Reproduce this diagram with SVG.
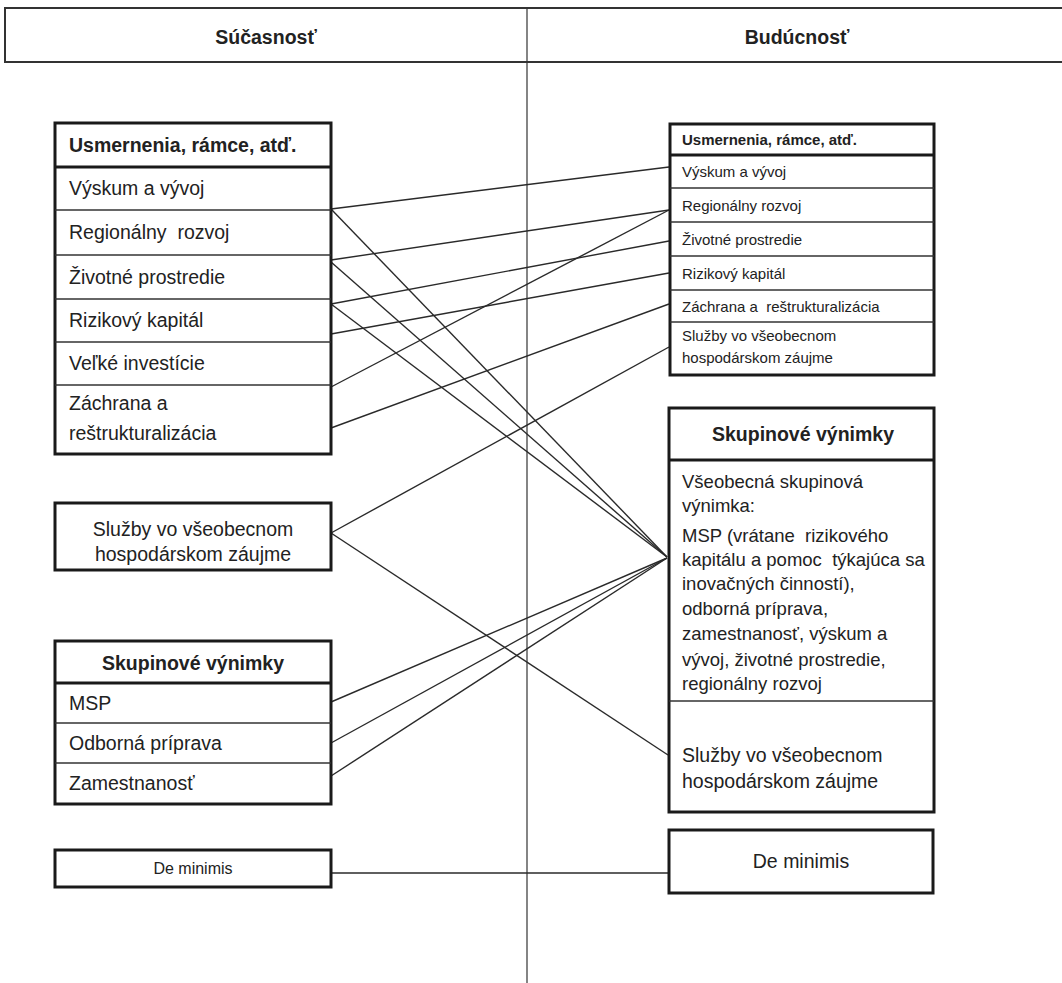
<svg xmlns="http://www.w3.org/2000/svg" width="1062" height="983" viewBox="0 0 1062 983">
<style>
text{font-family:"Liberation Sans",Arial,sans-serif;fill:#222}
.b{font-weight:bold}
.box{fill:#fff;stroke:#1a1a1a;stroke-width:3}
.sep{stroke:#1a1a1a;stroke-width:3}
.row{stroke:#333;stroke-width:1.4}
.c line{stroke:#2a2a2a;stroke-width:1.4}
.t20{font-size:19.5px}
.t15{font-size:15px}
.t16{font-size:16px}
.t18{font-size:18.5px}
.mid{text-anchor:middle}
</style>
<rect width="1062" height="983" fill="#fff"/>
<g id="header">
<rect x="5" y="8" width="1070" height="54" fill="#fff" stroke="#333" stroke-width="2"/>
<line x1="527" y1="8" x2="527" y2="983" stroke="#333" stroke-width="1.2"/>
<text class="b t20 mid" x="266" y="44">Súčasnosť</text>
<text class="b t20 mid" x="797" y="44">Budúcnosť</text>
</g>
<g class="c" id="connectors">
<line x1="331" y1="209" x2="669" y2="167"/>
<line x1="331" y1="209" x2="667" y2="557"/>
<line x1="331" y1="260" x2="669" y2="210"/>
<line x1="331" y1="262" x2="667" y2="557"/>
<line x1="331" y1="304" x2="669" y2="241"/>
<line x1="331" y1="304" x2="667" y2="557"/>
<line x1="331" y1="334" x2="669" y2="273"/>
<line x1="331" y1="387" x2="669" y2="210"/>
<line x1="331" y1="428" x2="669" y2="304"/>
<line x1="331" y1="533" x2="669" y2="347"/>
<line x1="331" y1="533" x2="668" y2="755"/>
<line x1="331" y1="702" x2="667" y2="558"/>
<line x1="331" y1="743" x2="667" y2="558"/>
<line x1="331" y1="776" x2="667" y2="558"/>
<line x1="331" y1="873" x2="669" y2="873"/>
</g>
<g id="left-usmernenia">
<rect class="box" x="55" y="123" width="276" height="331"/>
<line class="sep" x1="55" y1="167" x2="331" y2="167"/>
<line class="row" x1="55" y1="210" x2="331" y2="210"/>
<line class="row" x1="55" y1="255" x2="331" y2="255"/>
<line class="row" x1="55" y1="299" x2="331" y2="299"/>
<line class="row" x1="55" y1="342" x2="331" y2="342"/>
<line class="row" x1="55" y1="385" x2="331" y2="385"/>
<text class="b t20" x="69" y="152">Usmernenia, rámce, atď.</text>
<text class="t20" x="69" y="195">Výskum a vývoj</text>
<text class="t20" x="69" y="239" xml:space="preserve">Regionálny  rozvoj</text>
<text class="t20" x="69" y="284">Životné prostredie</text>
<text class="t20" x="69" y="327">Rizikový kapitál</text>
<text class="t20" x="69" y="370">Veľké investície</text>
<text class="t20" x="69" y="410">Záchrana a</text>
<text class="t20" x="69" y="440">reštrukturalizácia</text>
</g>
<g id="left-sluzby">
<rect class="box" x="55" y="503" width="276" height="67"/>
<text class="t20 mid" x="193" y="536">Služby vo všeobecnom</text>
<text class="t20 mid" x="193" y="561">hospodárskom záujme</text>
</g>
<g id="left-skupinove">
<rect class="box" x="55" y="641" width="276" height="163"/>
<line class="sep" x1="55" y1="683" x2="331" y2="683"/>
<line class="row" x1="55" y1="723" x2="331" y2="723"/>
<line class="row" x1="55" y1="763" x2="331" y2="763"/>
<text class="b t20 mid" x="193" y="670">Skupinové výnimky</text>
<text class="t20" x="69" y="710">MSP</text>
<text class="t20" x="69" y="750">Odborná príprava</text>
<text class="t20" x="69" y="790">Zamestnanosť</text>
</g>
<g id="left-deminimis">
<rect class="box" x="55" y="850" width="276" height="37"/>
<text class="t16 mid" x="193" y="874">De minimis</text>
</g>
<g id="right-usmernenia">
<rect class="box" x="670" y="124" width="264" height="251"/>
<line class="sep" x1="670" y1="155" x2="934" y2="155"/>
<line class="row" x1="670" y1="188" x2="934" y2="188"/>
<line class="row" x1="670" y1="222" x2="934" y2="222"/>
<line class="row" x1="670" y1="256" x2="934" y2="256"/>
<line class="row" x1="670" y1="290" x2="934" y2="290"/>
<line class="row" x1="670" y1="322" x2="934" y2="322"/>
<text class="b t15" x="682" y="145">Usmernenia, rámce, atď.</text>
<text class="t15" x="682" y="177">Výskum a vývoj</text>
<text class="t15" x="682" y="211">Regionálny rozvoj</text>
<text class="t15" x="682" y="245">Životné prostredie</text>
<text class="t15" x="682" y="279">Rizikový kapitál</text>
<text class="t15" x="682" y="312" xml:space="preserve">Záchrana a  reštrukturalizácia</text>
<text class="t15" x="682" y="341">Služby vo všeobecnom</text>
<text class="t15" x="682" y="363">hospodárskom záujme</text>
</g>
<g id="right-skupinove">
<rect class="box" x="669" y="408" width="265" height="404"/>
<line class="sep" x1="669" y1="460" x2="934" y2="460"/>
<line class="row" x1="669" y1="701" x2="934" y2="701"/>
<text class="b t20 mid" x="803" y="441">Skupinové výnimky</text>
<text class="t18" x="682" y="488">Všeobecná skupinová</text>
<text class="t18" x="682" y="512">výnimka:</text>
<text class="t18" x="682" y="542" xml:space="preserve">MSP (vrátane  rizikového</text>
<text class="t18" x="682" y="566" xml:space="preserve">kapitálu a pomoc  týkajúca sa</text>
<text class="t18" x="682" y="590">inovačných činností),</text>
<text class="t18" x="682" y="615">odborná príprava,</text>
<text class="t18" x="682" y="640">zamestnanosť, výskum a</text>
<text class="t18" x="682" y="666">vývoj, životné prostredie,</text>
<text class="t18" x="682" y="690">regionálny rozvoj</text>
<text class="t20" x="682" y="762">Služby vo všeobecnom</text>
<text class="t20" x="682" y="788">hospodárskom záujme</text>
</g>
<g id="right-deminimis">
<rect class="box" x="669" y="830" width="264" height="63"/>
<text class="t20 mid" x="801" y="868">De minimis</text>
</g>
</svg>
